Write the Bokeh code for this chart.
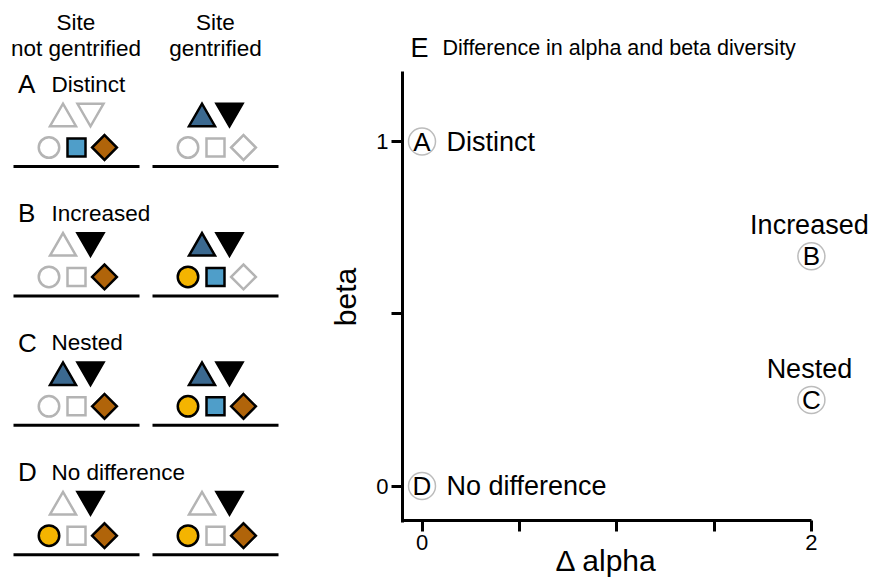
import math
from bokeh.plotting import figure
from bokeh.layouts import row
from bokeh.models import Range1d, FixedTicker, Label
from bokeh.core.properties import value
from bokeh.embed import file_html
from bokeh.resources import INLINE

# ---------------- data ----------------
site_columns = ["not gentrified", "gentrified"]
scenario_letters = ["A", "B", "C", "D"]
scenario_names = ["Distinct", "Increased", "Nested", "No difference"]
species = ["up_triangle", "down_triangle", "circle", "square", "diamond"]
species_colors = ["#3b6990", "#000000", "#f4b400", "#4f9ec9", "#b0640a"]
# presence of each species: [site not gentrified, site gentrified]
presence_A = [[0, 0, 0, 1, 1], [1, 1, 0, 0, 0]]
presence_B = [[0, 1, 0, 0, 1], [1, 1, 1, 1, 0]]
presence_C = [[1, 1, 0, 0, 1], [1, 1, 1, 1, 1]]
presence_D = [[0, 1, 1, 0, 1], [0, 1, 1, 0, 1]]
delta_alpha = [0, 2, 2, 0]
beta = [1, 0.667, 0.25, 0]
x_ticks = [0, 0.5, 1, 1.5, 2]
x_tick_labels = ["0", "", "", "", "2"]
y_ticks = [0, 0.5, 1]
y_tick_labels = ["0", "", "1"]

# ---------------- style / layout ----------------
FONT = "Liberation Sans"
GRAY = "#b4b4b4"
presence = [presence_A, presence_B, presence_C, presence_D]
PAGE_W, PAGE_H = 873, 579
LEFT_W = 308

# left schematic panel (coordinates are page pixels)
ROW_PITCH = 129.4
TITLE_Y0, TRI_Y0, SHAPE_Y0, BASE_Y0 = 83.5, 114.5, 147.0, 166.0
COL_DX = 139.0
HEADER_X = [75.5, 215.0]
SPECIES_X = [62.5, 90.0, 48.5, 76.0, 104.0]
MARKERS = ["triangle", "inverted_triangle", "circle", "square", "square"]
ANGLES = [0, 0, 0, 0, math.pi / 4]
SIZES = [26, 26, 20.5, 18, 17.5]
TRI_SHIFT = 3.7

left = figure(width=LEFT_W, height=PAGE_H, x_range=Range1d(0, LEFT_W),
              y_range=Range1d(PAGE_H, 0), output_backend="svg", toolbar_location=None,
              min_border=0, x_axis_type=None, y_axis_type=None)
left.outline_line_color = None

# header
left.text(x=HEADER_X, y=[21.5, 21.5], text=["Site", "Site"], text_align="center",
          text_baseline="middle", text_font=value(FONT), text_font_size="22.5px")
left.text(x=HEADER_X, y=[47.5, 47.5], text=site_columns, text_align="center",
          text_baseline="middle", text_font=value(FONT), text_font_size="22.5px")

# row titles
title_y = [TITLE_Y0 + r * ROW_PITCH for r in range(4)]
left.text(x=[17.5] * 4, y=title_y, text=scenario_letters, text_align="left",
          text_baseline="middle", text_font=value(FONT), text_font_size="26px")
left.text(x=[51] * 4, y=title_y, text=scenario_names, text_align="left",
          text_baseline="middle", text_font=value(FONT), text_font_size="22.5px")

# species symbols
for s_idx, sp in enumerate(species):
    xs, ys, fills, lines = [], [], [], []
    for r, pres in enumerate(presence):
        for c in range(2):
            on = pres[c][s_idx]
            xs.append(SPECIES_X[s_idx] + c * COL_DX)
            if s_idx == 0:
                ys.append(TRI_Y0 + r * ROW_PITCH + TRI_SHIFT)
            elif s_idx == 1:
                ys.append(TRI_Y0 + r * ROW_PITCH - TRI_SHIFT)
            else:
                ys.append(SHAPE_Y0 + r * ROW_PITCH)
            fills.append(species_colors[s_idx] if on else "white")
            lines.append("#000000" if on else GRAY)
    left.scatter(x=xs, y=ys, marker=MARKERS[s_idx], size=SIZES[s_idx], angle=ANGLES[s_idx],
                 fill_color=fills, line_color=lines, line_width=2.5, line_join="miter")

# ground lines
gx0, gx1, gy = [], [], []
for r in range(4):
    for c in range(2):
        gx0.append(13 + c * COL_DX)
        gx1.append(139 + c * COL_DX)
        gy.append(BASE_Y0 + r * ROW_PITCH)
left.segment(x0=gx0, y0=gy, x1=gx1, y1=gy, line_color="#000000", line_width=3)

# right scatter panel: page-pixel calibration
X0_PX, XS = 421.5, 194.7
Y0_PX, YS = 485.5, 344.5


def px2x(px):
    return (px - X0_PX) / XS


def px2y(py):
    return (Y0_PX - py) / YS


right = figure(width=PAGE_W - LEFT_W, height=PAGE_H,
               x_range=Range1d(px2x(LEFT_W), px2x(PAGE_W)),
               y_range=Range1d(px2y(PAGE_H), px2y(0)), output_backend="svg",
               toolbar_location=None, min_border=0)
right.outline_line_color = None
right.xgrid.visible = False
right.ygrid.visible = False

xa = right.xaxis[0]
ya = right.yaxis[0]
xa.fixed_location = px2y(520)
ya.fixed_location = px2x(402)
xa.bounds = (px2x(400.5), 2)
ya.bounds = (px2y(521.5), px2y(71))
xa.ticker = FixedTicker(ticks=x_ticks, minor_ticks=[])
ya.ticker = FixedTicker(ticks=y_ticks, minor_ticks=[])
xa.major_label_overrides = {t: l for t, l in zip(x_ticks, x_tick_labels)}
ya.major_label_overrides = {t: l for t, l in zip(y_ticks, y_tick_labels)}
for ax in (xa, ya):
    ax.axis_line_width = 3
    ax.axis_line_color = "#000000"
    ax.major_tick_line_width = 3
    ax.major_tick_line_color = "#000000"
    ax.major_tick_out = 11
    ax.major_tick_in = 0
    ax.minor_tick_line_color = None
    ax.major_label_text_font = FONT
    ax.major_label_text_font_size = "22px"
    ax.major_label_text_color = "#000000"
    ax.major_label_standoff = 3
    ax.axis_label_text_font = FONT
    ax.axis_label_text_font_size = "30px"
    ax.axis_label_text_font_style = "normal"
    ax.axis_label_text_color = "#000000"
xa.axis_label = "Δ alpha"
xa.axis_label_standoff = -9
ya.axis_label = "beta"
ya.axis_label_standoff = 11

# title
right.add_layout(Label(x=px2x(410), y=px2y(47), text="E", text_font=FONT,
                       text_font_size="27px", text_baseline="middle", text_color="#000000"))
right.add_layout(Label(x=px2x(442), y=px2y(47), text="Difference in alpha and beta diversity",
                       text_font=FONT, text_font_size="21.5px", text_baseline="middle",
                       text_color="#000000"))

# points
right.scatter(x=delta_alpha, y=beta, marker="circle", size=27, fill_color="white",
              line_color="#bcbcbc", line_width=1.5)
right.text(x=delta_alpha, y=beta, text=scenario_letters, text_align="center",
           text_baseline="middle", text_font=value(FONT), text_font_size="26px")

side_idx = [i for i in range(4) if delta_alpha[i] == 0]
top_idx = [i for i in range(4) if delta_alpha[i] != 0]
right.text(x=[delta_alpha[i] for i in side_idx], y=[beta[i] for i in side_idx],
           text=[scenario_names[i] for i in side_idx], x_offset=24.5, text_align="left",
           text_baseline="middle", text_font=value(FONT), text_font_size="27px")
right.text(x=[delta_alpha[i] for i in top_idx], y=[beta[i] for i in top_idx],
           text=[scenario_names[i] for i in top_idx], x_offset=-2, y_offset=-31,
           text_align="center", text_baseline="middle", text_font=value(FONT),
           text_font_size="27px")

layout = row(left, right)
open("out.html", "w").write(file_html(layout, INLINE))
